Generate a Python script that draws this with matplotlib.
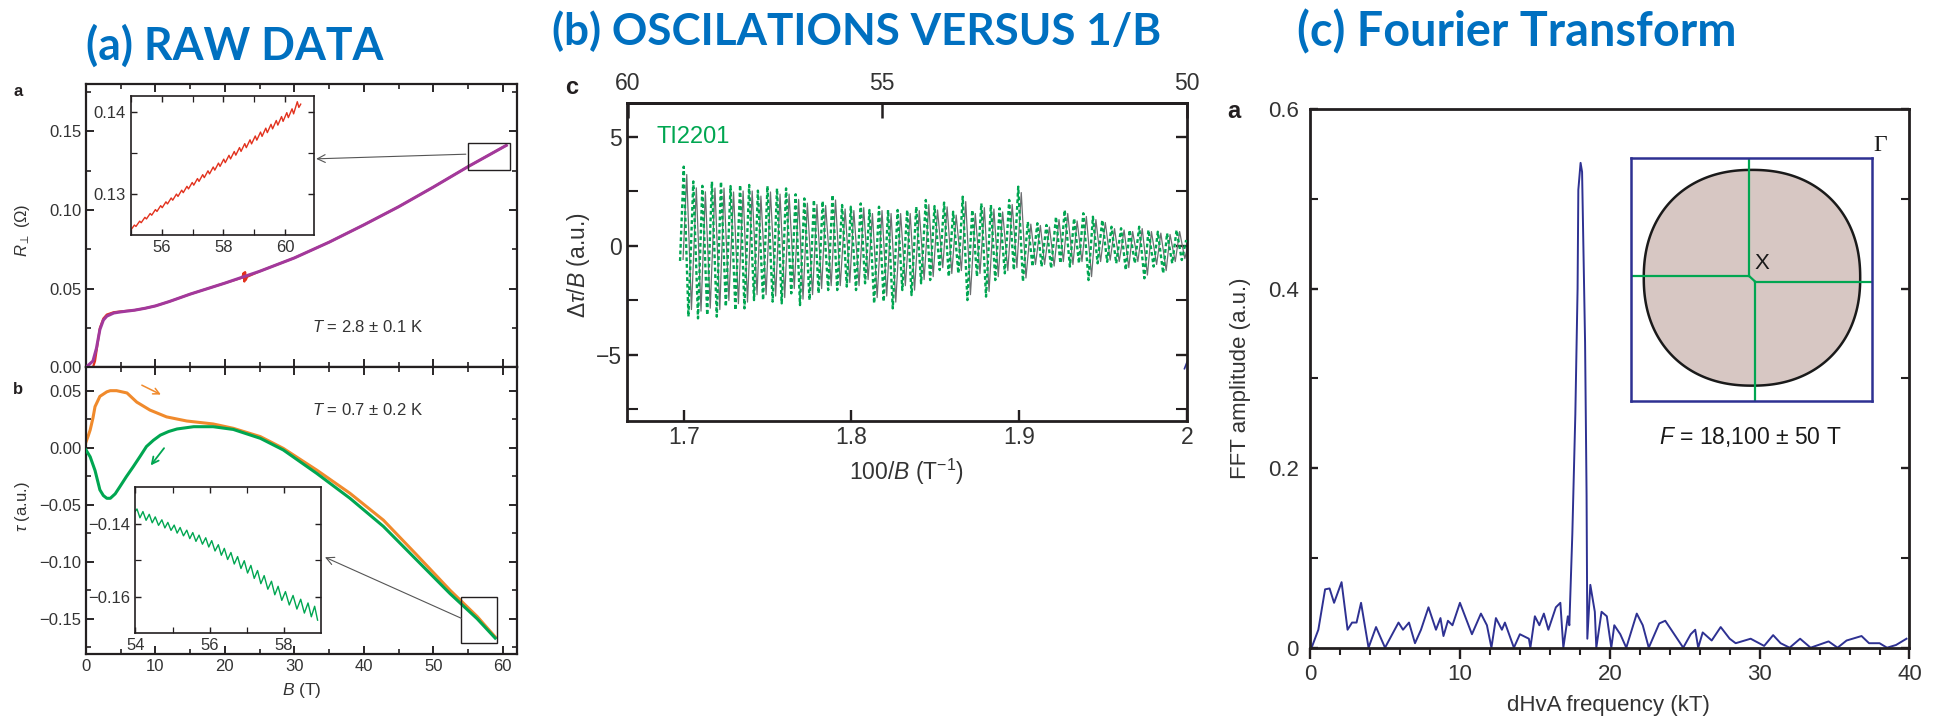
import numpy as np
import matplotlib
matplotlib.use('Agg')
import matplotlib.pyplot as plt
from matplotlib import font_manager as fm
from matplotlib.patches import Rectangle, Polygon, ConnectionPatch
from matplotlib.ticker import FixedLocator, FuncFormatter

# ---- (a) raw data: resistance, sweep up (red) and smoothed (purple) ----
R_RED_B = [0.0, 1.0, 1.3, 1.6, 2.0, 2.5, 3.0, 4.0, 5.0, 7.0, 8.5, 10, 12, 15, 17.5, 20,
           22.5, 22.7, 22.8, 22.9, 23.0, 23.2, 25, 30, 35, 40, 45, 50, 55, 60.5]
R_RED = [0.0, 0.0, 0.004, 0.013, 0.025, 0.031, 0.0335, 0.0350, 0.0355, 0.0363, 0.0375,
         0.0390, 0.0418, 0.0465, 0.0500, 0.0535, 0.0570, 0.0600, 0.0545, 0.0605, 0.0555,
         0.0575, 0.0610, 0.0695, 0.0795, 0.0905, 0.1020, 0.1145, 0.1275, 0.1410]
R_PUR_B = [0.0, 0.5, 1.0, 1.5, 2.0, 2.5, 3.0, 4.0, 5.0, 7.0, 8.5, 10, 12, 15, 17.5, 20,
           25, 30, 35, 40, 45, 50, 55, 60.5]
R_PUR = [0.0, 0.002, 0.004, 0.012, 0.024, 0.030, 0.0325, 0.0345, 0.0352, 0.0363, 0.0375,
         0.0390, 0.0418, 0.0465, 0.0500, 0.0535, 0.0610, 0.0695, 0.0795, 0.0905, 0.1020,
         0.1145, 0.1275, 0.1410]

# zoom of the resistance between 55 and 61 T
UP_INSET_B = [55.00, 55.12, 55.17, 55.29, 55.34, 55.46, 55.51, 55.63, 55.68, 55.80,
              55.85, 55.97, 56.02, 56.14, 56.19, 56.31, 56.36, 56.48, 56.53, 56.65,
              56.70, 56.82, 56.87, 56.99, 57.04, 57.16, 57.21, 57.33, 57.38, 57.50,
              57.55, 57.67, 57.72, 57.84, 57.89, 58.01, 58.06, 58.18, 58.23, 58.35,
              58.40, 58.52, 58.57, 58.69, 58.74, 58.86, 58.91, 59.03, 59.08, 59.20,
              59.25, 59.37, 59.42, 59.54, 59.59, 59.71, 59.76, 59.88, 59.93, 60.05,
              60.10, 60.22, 60.27, 60.39, 60.44, 60.50]
UP_INSET_R = [0.12555, 0.12618, 0.12601, 0.12666, 0.12647, 0.12713, 0.12693, 0.12760,
              0.12739, 0.12808, 0.12785, 0.12856, 0.12831, 0.12903, 0.12877, 0.12950,
              0.12923, 0.12998, 0.12969, 0.13046, 0.13015, 0.13093, 0.13061, 0.13140,
              0.13107, 0.13188, 0.13153, 0.13236, 0.13199, 0.13283, 0.13245, 0.13330,
              0.13291, 0.13378, 0.13337, 0.13426, 0.13383, 0.13473, 0.13429, 0.13520,
              0.13475, 0.13568, 0.13521, 0.13616, 0.13567, 0.13663, 0.13613, 0.13710,
              0.13659, 0.13758, 0.13705, 0.13806, 0.13751, 0.13853, 0.13797, 0.13900,
              0.13843, 0.13948, 0.13889, 0.13996, 0.13935, 0.14043, 0.13981, 0.14130,
              0.14060, 0.14100]

# torque, up sweep (orange) and down sweep (green)
TAU_UP_B = [0.0, 0.3, 0.6, 1.0, 1.3, 2.0, 3.0, 3.5, 4.4, 5.9, 7.3, 9.2, 11.6, 14.5, 18.3,
            21.2, 25.1, 28.4, 33.2, 38.0, 42.8, 47.6, 52.4, 56.3, 58.9]
TAU_UP = [0.005, 0.010, 0.0155, 0.026, 0.036, 0.045, 0.049, 0.050, 0.050, 0.048, 0.040,
          0.033, 0.027, 0.0234, 0.0208, 0.017, 0.0097, -0.0006, -0.0196, -0.040, -0.0635,
          -0.094, -0.125, -0.148, -0.166]
TAU_DN_B = [0.0, 0.3, 0.6, 1.3, 2.0, 2.5, 3.0, 3.5, 4.2, 4.9, 5.8, 6.8, 7.8, 8.7, 9.7,
            10.7, 11.9, 13.1, 15.5, 18.3, 21.2, 25.1, 28.4, 33.2, 38.0, 42.8, 47.6, 52.4,
            56.3, 58.9]
TAU_DN = [-0.002, -0.005, -0.008, -0.020, -0.037, -0.042, -0.0444, -0.0444, -0.0405,
          -0.034, -0.0255, -0.0167, -0.0075, 0.001, 0.0065, 0.011, 0.0142, 0.0164, 0.0184,
          0.0184, 0.016, 0.0082, -0.002, -0.0225, -0.0444, -0.069, -0.0985, -0.128,
          -0.150, -0.167]

# zoom of the down sweep between 54 and 59 T
LO_INSET_B = [54.00, 54.045, 54.125, 54.205, 54.29, 54.375, 54.455, 54.536, 54.625,
              54.714, 54.795, 54.875, 54.96, 55.045, 55.125, 55.205, 55.295, 55.384,
              55.465, 55.545, 55.63, 55.714, 55.805, 55.893, 55.975, 56.054, 56.143,
              56.232, 56.313, 56.393, 56.482, 56.571, 56.66, 56.75, 56.84, 56.929,
              57.018, 57.107, 57.197, 57.286, 57.375, 57.464, 57.563, 57.661, 57.75,
              57.839, 57.938, 58.036, 58.139, 58.241, 58.344, 58.446, 58.545, 58.643,
              58.732, 58.821, 58.90]
LO_INSET_TAU = [-0.1366, -0.13595, -0.13837, -0.13666, -0.13906, -0.13742, -0.13974,
                -0.13813, -0.14045, -0.13893, -0.14115, -0.13964, -0.14183, -0.14038,
                -0.14257, -0.14104, -0.14333, -0.14177, -0.14409, -0.14243, -0.14484,
                -0.14313, -0.14562, -0.14386, -0.14639, -0.14464, -0.14748, -0.14576,
                -0.14866, -0.14677, -0.14982, -0.14790, -0.15106, -0.14902, -0.15229,
                -0.15015, -0.15354, -0.15144, -0.15501, -0.15285, -0.15646, -0.15424,
                -0.15798, -0.15579, -0.15951, -0.15718, -0.16104, -0.15863, -0.16231,
                -0.15969, -0.16343, -0.16073, -0.16453, -0.16175, -0.16555, -0.16266,
                -0.16647]

# ---- (b) oscillatory torque vs 100/B: maxima and minima of each cycle ----
OSC_START = (1.6978, -0.70)
PEAK_X = [1.7000, 1.7057, 1.7111, 1.7168, 1.7222, 1.7279, 1.7336, 1.7390, 1.7442, 1.7499,
          1.7556, 1.7610, 1.7667, 1.7719, 1.7776, 1.7828, 1.7887, 1.7944, 1.7996, 1.8055,
          1.8107, 1.8164, 1.8218, 1.8275, 1.8332, 1.8386, 1.8443, 1.8495, 1.8552, 1.8606,
          1.8663, 1.8720, 1.8774, 1.8831, 1.8883, 1.8940, 1.8994, 1.9051, 1.9108, 1.9162,
          1.9219, 1.9271, 1.9327, 1.9382, 1.9439, 1.9495, 1.9550, 1.9607, 1.9658, 1.9715,
          1.9770, 1.9826, 1.9881, 1.9938, 1.9995]
PEAK_Y = [3.63, 2.95, 2.75, 2.94, 2.94, 2.74, 2.79, 2.79, 2.53, 2.74,
          2.63, 2.63, 2.36, 2.17, 2.10, 2.05, 2.33, 1.87, 1.79, 1.94,
          1.64, 1.79, 1.64, 1.64, 1.64, 1.79, 2.10, 1.82, 1.98, 1.56,
          2.25, 1.64, 1.94, 1.87, 1.72, 2.10, 2.71, 1.10, 1.03, 0.95,
          1.33, 1.64, 1.26, 1.49, 1.33, 1.18, 0.87, 0.80, 0.72, 0.87,
          0.72, 0.64, 0.57, 0.72, 0.26]
TROUGH_X = [1.7028, 1.7085, 1.7140, 1.7197, 1.7251, 1.7308, 1.7362, 1.7419, 1.7473, 1.7530,
            1.7584, 1.7641, 1.7693, 1.7750, 1.7804, 1.7861, 1.7915, 1.7972, 1.8027, 1.8081,
            1.8135, 1.8192, 1.8246, 1.8303, 1.8358, 1.8415, 1.8469, 1.8526, 1.8580, 1.8637,
            1.8691, 1.8748, 1.8802, 1.8857, 1.8914, 1.8968, 1.9022, 1.9079, 1.9133, 1.9190,
            1.9245, 1.9302, 1.9356, 1.9413, 1.9467, 1.9524, 1.9578, 1.9635, 1.9689, 1.9746,
            1.9801, 1.9858, 1.9912, 1.9969]
TROUGH_Y = [-3.26, -3.34, -3.19, -3.26, -2.80, -2.96, -2.88, -2.50, -2.50, -2.57,
            -2.65, -2.19, -2.73, -2.50, -2.19, -2.04, -2.04, -1.88, -2.04, -1.73,
            -2.65, -2.57, -2.88, -2.04, -2.27, -1.73, -1.58, -1.12, -1.42, -1.27,
            -2.50, -1.42, -2.34, -1.58, -1.27, -1.12, -1.65, -0.96, -0.96, -1.04,
            -0.81, -0.96, -0.81, -1.58, -0.81, -0.74, -0.81, -1.12, -0.81, -1.50,
            -0.96, -1.27, -0.81, -0.66]
STRAY_X = [1.9985, 2.0]
STRAY_Y = [-5.65, -5.35]

# ---- (c) FFT spectrum ----
FREQ = [0.1, 0.55, 1.0, 1.3, 1.6, 2.1, 2.5, 2.8, 3.1, 3.4, 3.9, 4.4, 5.0, 5.9, 6.2, 6.6,
        7.0, 7.4, 7.9, 8.4, 8.7, 8.9, 9.2, 9.5, 10.0, 10.8, 11.4, 11.8, 12.1, 12.4, 12.8,
        13.0, 13.6, 14.0, 14.6, 14.7, 15.0, 15.3, 15.6, 15.9, 16.4, 16.7, 16.9, 17.2, 17.3,
        17.5, 17.7, 17.85, 17.9, 18.05, 18.15, 18.35, 18.45, 18.5, 18.7, 19.0, 19.1,
        19.45, 19.8, 20.1, 20.3, 20.7, 21.1, 21.8, 22.2, 22.6, 23.3, 23.7, 24.3, 24.9,
        25.4, 25.7, 25.9, 26.2, 26.8, 27.4, 28.0, 28.4, 29.4, 30.3, 30.9, 31.4, 32.0,
        32.7, 33.4, 34.6, 35.2, 35.8, 36.8, 37.3, 38.0, 38.5, 39.1, 39.8]
AMP = [0.0, 0.02, 0.065, 0.066, 0.05, 0.073, 0.02, 0.028, 0.028, 0.05, 0.0, 0.023, 0.0,
       0.028, 0.02, 0.028, 0.005, 0.02, 0.045, 0.02, 0.033, 0.013, 0.03, 0.025, 0.05,
       0.015, 0.038, 0.025, 0.0, 0.033, 0.02, 0.028, 0.0, 0.015, 0.01, 0.0, 0.035, 0.025,
       0.038, 0.02, 0.045, 0.05, 0.0, 0.035, 0.025, 0.127, 0.26, 0.40, 0.51, 0.54, 0.53,
       0.34, 0.17, 0.01, 0.07, 0.04, 0.0, 0.04, 0.035, 0.0, 0.025, 0.015, 0.0, 0.038,
       0.025, 0.0, 0.027, 0.03, 0.015, 0.0, 0.015, 0.02, 0.0, 0.017, 0.008, 0.023, 0.01,
       0.005, 0.01, 0.002, 0.014, 0.005, 0.0, 0.01, 0.0, 0.007, 0.0, 0.008, 0.013, 0.005,
       0.005, 0.0, 0.003, 0.01]


def have(name):
    try:
        fm.findfont(fm.FontProperties(family=name), fallback_to_default=False)
        return True
    except ValueError:
        return False


SANS = 'Liberation Sans'
NARROW = 'Liberation Sans Narrow' if have('Liberation Sans Narrow') else SANS
TITLE_FONT = 'Lato' if have('Lato') else 'DejaVu Sans'

plt.rcParams['font.family'] = [SANS, 'DejaVu Sans']
plt.rcParams['mathtext.fontset'] = 'custom'
plt.rcParams['mathtext.rm'] = NARROW
plt.rcParams['mathtext.it'] = NARROW + ':italic'
plt.rcParams['mathtext.bf'] = NARROW + ':bold'

BLUE_T = '#0070c0'
PURPLE = '#a2399c'
RED = '#e2311d'
ORANGE = '#f08a2c'
GREEN = '#00a651'
NAVY = '#2e3192'
GRAY = '#6d6e71'
INK = '#231f20'

W, H = 1937, 717
fig = plt.figure(figsize=(W / 100, H / 100), dpi=100)


def box(l, t, r, b):
    return [l / W, 1 - b / H, (r - l) / W, (b - t) / H]


def fpos(x, y):
    return x / W, 1 - y / H


def minus(fmt):
    def f(v, _):
        if abs(v) < 1e-12:
            v = 0.0
        return (fmt % v).replace('-', '\u2212')
    return FuncFormatter(f)


def frame(ax, lw=1.6, size=11.5, family=SANS, major=6, minor=3.5):
    for s in ax.spines.values():
        s.set_linewidth(lw)
        s.set_color(INK)
    ax.tick_params(which='both', direction='in', colors=INK, labelcolor='#333333',
                   labelsize=size)
    ax.tick_params(which='major', length=major, width=lw * 0.85)
    ax.tick_params(which='minor', length=minor, width=lw * 0.75)
    plt.setp(ax.get_xticklabels() + ax.get_yticklabels(), fontfamily=family)


def fixed(ax, xmaj, xmin, ymaj, ymin):
    ax.xaxis.set_major_locator(FixedLocator(xmaj))
    ax.xaxis.set_minor_locator(FixedLocator(xmin))
    ax.yaxis.set_major_locator(FixedLocator(ymaj))
    ax.yaxis.set_minor_locator(FixedLocator(ymin))


# ================= (a) raw data =================
ax1 = fig.add_axes(box(86, 84, 516.7, 367.3))
ax1.plot(R_RED_B, R_RED, color=RED, lw=1.6, zorder=2)
ax1.plot(R_PUR_B, R_PUR, color=PURPLE, lw=2.2, zorder=3)
ax1.set_xlim(0, 62)
ax1.set_ylim(0, 0.18)
fixed(ax1, [0, 10, 20, 30, 40, 50, 60], [5, 15, 25, 35, 45, 55],
      [0.0, 0.05, 0.10, 0.15], [0.025, 0.075, 0.125, 0.175])
ax1.yaxis.set_major_formatter(minus('%.2f'))
ax1.tick_params(which='both', top=True, right=True, labelbottom=False)
frame(ax1, size=12)
ax1.add_patch(Rectangle((55.05, 0.1254), 6.0, 0.0170, fill=False, lw=1.0, ec=INK, zorder=4))
ax1.text(32.5, 0.0256, r'$T$ = 2.8 ± 0.1 K', fontsize=12, color='#333333',
         va='center', ha='left')

ax2 = fig.add_axes(box(86, 367.3, 516.7, 653.7))
ax2.plot(TAU_UP_B, TAU_UP, color=ORANGE, lw=2.2, zorder=2)
ax2.plot(TAU_DN_B, TAU_DN, color=GREEN, lw=2.2, zorder=3)
ax2.set_xlim(0, 62)
ax2.set_ylim(-0.1807, 0.0705)
fixed(ax2, [0, 10, 20, 30, 40, 50, 60], [5, 15, 25, 35, 45, 55],
      [-0.15, -0.10, -0.05, 0.0, 0.05], [-0.175, -0.125, -0.075, -0.025, 0.025])
ax2.yaxis.set_major_formatter(minus('%.2f'))
ax2.tick_params(which='both', top=True, right=True)
frame(ax2, size=12)
ax2.add_patch(Rectangle((54.05, -0.171), 5.05, 0.040, fill=False, lw=1.0, ec=INK, zorder=4))
ax2.text(32.5, 0.033, r'$T$ = 0.7 ± 0.2 K', fontsize=12, color='#333333',
         va='center', ha='left')
ax2.annotate('', xy=(11.14, 0.0455), xytext=(7.68, 0.0559),
             arrowprops=dict(arrowstyle='->', color=ORANGE, lw=1.1, mutation_scale=11))
ax2.annotate('', xy=(9.07, -0.0175), xytext=(11.48, 0.0015),
             arrowprops=dict(arrowstyle='->', color=GREEN, lw=1.3, mutation_scale=12))

ins1 = fig.add_axes(box(130.7, 96, 314, 234.7))
ins1.plot(UP_INSET_B, UP_INSET_R, color=RED, lw=1.0)
ins1.set_xlim(55, 60.93)
ins1.set_ylim(0.125, 0.142)
fixed(ins1, [56, 58, 60], [55, 57, 59], [0.13, 0.14], [0.135])
ins1.yaxis.set_major_formatter(minus('%.2f'))
ins1.tick_params(which='both', top=True, right=True)
frame(ins1, lw=1.2, size=12, major=4, minor=4)

ins2 = fig.add_axes(box(135.3, 487.3, 321.3, 633))
ins2.plot(LO_INSET_B, LO_INSET_TAU, color=GREEN, lw=1.0)
ins2.set_xlim(54, 59)
ins2.set_ylim(-0.17, -0.13)
fixed(ins2, [54, 56, 58], [55, 57], [-0.16, -0.14], [-0.15])
ins2.xaxis.set_major_formatter(minus('%d'))
ins2.yaxis.set_major_formatter(minus('%.2f'))
ins2.tick_params(which='both', top=True, right=True)
frame(ins2, lw=1.2, size=12, major=4, minor=4)

for xyA, axA, xyB, axB in [((54.68, 0.1354), ax1, (1.012, 0.547), ins1),
                           ((54.05, -0.1497), ax2, (1.02, 0.52), ins2)]:
    con = ConnectionPatch(xyA=xyA, coordsA=axA.transData, xyB=xyB, coordsB=axB.transAxes,
                          arrowstyle='->', color='#555555', lw=0.8, mutation_scale=14)
    fig.add_artist(con)

fig.text(*fpos(18, 91), 'a', fontsize=12, fontweight='bold', color=INK,
         ha='center', va='center')
fig.text(*fpos(18, 390), 'b', fontsize=12, fontweight='bold', color=INK,
         ha='center', va='center')
fig.text(*fpos(23, 230), r'$R_{\perp}$ (Ω)', rotation=90, fontsize=12, color='#333333',
         ha='center', va='center')
fig.text(*fpos(23, 507), r'$\tau$ (a.u.)', rotation=90, fontsize=12, color='#333333',
         ha='center', va='center')
fig.text(*fpos(301.7, 690), r'$B$ (T)', fontsize=12.5, color='#333333',
         ha='center', va='center')

# ================= (b) oscillations vs 100/B =================
osc_x = [OSC_START[0]]
osc_y = [OSC_START[1]]
for i in range(len(PEAK_X)):
    osc_x.append(PEAK_X[i])
    osc_y.append(PEAK_Y[i])
    if i < len(TROUGH_X):
        osc_x.append(TROUGH_X[i])
        osc_y.append(TROUGH_Y[i])
osc_x = np.array(osc_x)
osc_y = np.array(osc_y)

axb = fig.add_axes(box(626.7, 103.3, 1187, 420.7))
axb.plot(osc_x + 0.0018, osc_y * 0.9, color=GRAY, lw=0.9, zorder=2)
axb.plot(osc_x, osc_y, color=GREEN, lw=1.7, ls=(0, (1.6, 1.2)), zorder=3)
axb.plot(STRAY_X, STRAY_Y, color=NAVY, lw=1.2)
axb.set_xlim(1.666, 2.0)
axb.set_ylim(-8.04, 6.54)
fixed(axb, [1.7, 1.8, 1.9, 2.0], [], [-5, 0, 5], [-7.5, -2.5, 2.5])
axb.xaxis.set_major_formatter(FuncFormatter(lambda v, _: '%g' % v))
axb.yaxis.set_major_formatter(minus('%d'))
axb.tick_params(which='both', top=False, right=True)
frame(axb, lw=2.0, size=16.5, family=NARROW, major=8, minor=8)


def inv(x):
    x = np.asarray(x, dtype=float)
    out = np.full_like(x, np.inf)
    np.divide(100.0, x, out=out, where=x != 0)
    return out


top = axb.secondary_xaxis('top', functions=(inv, inv))
top.xaxis.set_major_locator(FixedLocator([60, 55, 50]))
top.xaxis.set_major_formatter(FuncFormatter(lambda v, _: '%d' % round(v)))
top.tick_params(direction='in', length=11, width=1.8, colors=INK, labelsize=16.5,
                labelcolor='#333333', pad=6)
top.spines['top'].set_linewidth(2.0)
plt.setp(top.get_xticklabels(), fontfamily=NARROW)
axb.text(1.684, 5.0, 'TI2201', color=GREEN, fontsize=17, fontfamily=NARROW,
         ha='left', va='center')

fig.text(*fpos(571.5, 87.5), 'c', fontsize=17, fontweight='bold', color=INK,
         fontfamily=SANS, ha='center', va='center')
fig.text(*fpos(578, 265), r'$\Delta\tau/B$ (a.u.)', rotation=90, fontsize=16.5,
         color='#333333', fontfamily=NARROW, ha='center', va='center')
fig.text(*fpos(906, 472), r'100/$B$ (T$^{-1}$)', fontsize=16.5, color='#333333',
         fontfamily=NARROW, ha='center', va='center')

# ================= (c) Fourier transform =================
axc = fig.add_axes(box(1310.1, 109, 1909.5, 647.7))
axc.plot(FREQ, AMP, color=NAVY, lw=1.4)
axc.set_xlim(0, 40)
axc.set_ylim(0, 0.6)
fixed(axc, [0, 10, 20, 30, 40], list(range(2, 40, 2)), [0, 0.2, 0.4, 0.6], [0.1, 0.3, 0.5])
axc.yaxis.set_major_formatter(FuncFormatter(lambda v, _: '0' if v == 0 else '%.1f' % v))
axc.tick_params(which='both', top=False, right=True)
frame(axc, lw=2.0, size=16, family=NARROW, major=6, minor=6)
axc.tick_params(axis='x', which='both', direction='out')
axc.tick_params(axis='x', which='minor', length=5)
axc.tick_params(axis='x', which='major', length=8)
axc.tick_params(axis='y', pad=8)

insc = fig.add_axes(box(1631, 158, 1872, 400.7))
insc.set_xlim(0, 1)
insc.set_ylim(0, 1)
insc.set_xticks([])
insc.set_yticks([])
for s in insc.spines.values():
    s.set_color(NAVY)
    s.set_linewidth(1.8)
# rounded Fermi-surface outline (superellipse)
t = np.linspace(0, 2 * np.pi, 361)
ct, st = np.cos(t), np.sin(t)
ex = 0.502 + 0.449 * np.sign(ct) * np.abs(ct) ** (2 / 2.2)
ey = 0.5065 + 0.4445 * np.sign(st) * np.abs(st) ** (2 / 2.2)
insc.add_patch(Polygon(np.column_stack([ex, ey]), closed=True, facecolor='#d7c7c3',
                       edgecolor='#1a1a1a', lw=1.8, zorder=1))
for xs, ys in [([0.4896, 0.4896], [1.0, 0.514]), ([0.4896, 0.516], [0.514, 0.490]),
               ([0.516, 0.516], [0.490, 0.0]), ([0.0, 0.4896], [0.514, 0.514]),
               ([0.516, 1.0], [0.490, 0.490])]:
    insc.plot(xs, ys, color=GREEN, lw=1.6, zorder=2)
insc.text(0.543, 0.565, 'X', fontsize=16, fontfamily=NARROW, color='#1a1a1a',
          ha='center', va='center', zorder=3)
insc.text(1.035, 1.05, 'Γ', fontsize=17, fontfamily='Liberation Serif', color='#1a1a1a',
          ha='center', va='center')
insc.text(0.495, -0.148, r'$F$ = 18,100 ± 50 T', fontsize=16.5, fontfamily=NARROW,
          color='#1a1a1a', ha='center', va='center')

fig.text(*fpos(1233.7, 111.7), 'a', fontsize=17, fontweight='bold', color=INK,
         ha='center', va='center')
fig.text(*fpos(1240.6, 378), 'FFT amplitude (a.u.)', rotation=90, fontsize=16,
         color='#333333', fontfamily=NARROW, ha='center', va='center')
fig.text(*fpos(1608.7, 705), 'dHvA frequency (kT)', fontsize=16, color='#333333',
         fontfamily=NARROW, ha='center', va='center')

# ================= headings =================
renderer = fig.canvas.get_renderer()
for label, left, right, cy in [('(a) RAW DATA', 86, 383, 45.5),
                               ('(b) OSCILATIONS VERSUS 1/B', 552, 1161, 31.5),
                               ('(c) Fourier Transform', 1297, 1735, 31.5)]:
    txt = fig.text(*fpos(left, cy), label, fontsize=30, fontweight='bold', color=BLUE_T,
                   fontfamily=TITLE_FONT, ha='left', va='center')
    w = txt.get_window_extent(renderer).width
    txt.set_fontsize(30 * (right - left) / w)

fig.savefig('out.png', dpi=100, facecolor='white')
